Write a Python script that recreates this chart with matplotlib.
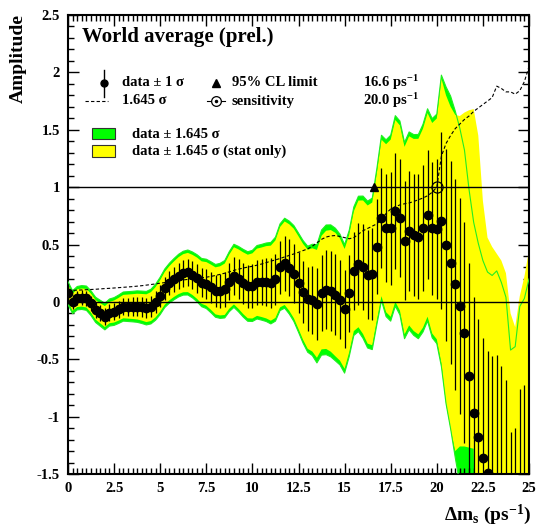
import numpy as np
import matplotlib
matplotlib.use("Agg")
from matplotlib import pyplot as plt
from matplotlib.patches import Rectangle
from matplotlib.lines import Line2D
from matplotlib.ticker import FuncFormatter, MultipleLocator

plt.rcParams['font.family'] = ['Liberation Serif', 'DejaVu Serif']
plt.rcParams['font.weight'] = 'bold'
plt.rcParams['mathtext.fontset'] = 'custom'
plt.rcParams['mathtext.rm'] = 'Liberation Serif:bold'
plt.rcParams['mathtext.it'] = 'Liberation Serif:bold'
plt.rcParams['mathtext.bf'] = 'Liberation Serif:bold'
plt.rcParams['axes.unicode_minus'] = False

# delta m_s scan points (ps^-1), step 0.25
dm = np.arange(0, 25.001, 0.25)

# measured amplitude at each scan point
amp = [0.076, -0.003, 0.032, 0.038, 0.032, -0.012, -0.070, -0.099, -0.128, -0.093,
       -0.084, -0.064, -0.041, -0.041, -0.041, -0.041, -0.047, -0.055, -0.041, -0.003,
       0.052, 0.119, 0.163, 0.198, 0.229, 0.250, 0.256, 0.235, 0.206, 0.168,
       0.157, 0.128, 0.096, 0.096, 0.110, 0.177, 0.227, 0.198, 0.163, 0.134,
       0.139, 0.171, 0.171, 0.171, 0.163, 0.198, 0.302, 0.337, 0.299, 0.247,
       0.168, 0.087, 0.023, 0.017, -0.017, 0.081, 0.105, 0.096, 0.064, 0.020,
       -0.061, 0.073, 0.267, 0.331, 0.302, 0.238, 0.244, 0.482, 0.732, 0.642,
       0.642, 0.793, 0.731, 0.534, 0.619, 0.583, 0.569, 0.642, 0.758, 0.642,
       0.636, 0.706, 0.494, 0.343, 0.154, -0.038, -0.267, -0.643, -0.967, -1.180,
       -1.360, -1.490, -1.55, -1.61, -1.69, -1.79, -2.25, -2.20, -1.88, -1.89,
       -1.85]

# 1.645 sigma (total) -- the dashed sensitivity curve
sens = [0.100, 0.100, 0.102, 0.104, 0.106, 0.108, 0.110, 0.113, 0.116, 0.118,
        0.121, 0.124, 0.127, 0.130, 0.133, 0.137, 0.141, 0.146, 0.151, 0.157,
        0.163, 0.168, 0.174, 0.180, 0.186, 0.191, 0.196, 0.200, 0.205, 0.210,
        0.215, 0.222, 0.230, 0.240, 0.250, 0.262, 0.275, 0.285, 0.295, 0.303,
        0.310, 0.320, 0.330, 0.342, 0.355, 0.366, 0.378, 0.392, 0.405, 0.418,
        0.432, 0.447, 0.462, 0.485, 0.515, 0.545, 0.565, 0.575, 0.578, 0.570,
        0.560, 0.550, 0.560, 0.590, 0.620, 0.640, 0.660, 0.680, 0.720, 0.770,
        0.810, 0.830, 0.845, 0.855, 0.862, 0.875, 0.890, 0.905, 0.925, 0.955,
        1.000, 1.270, 1.380, 1.450, 1.510, 1.550, 1.590, 1.620, 1.660, 1.690,
        1.720, 1.750, 1.780, 1.880, 1.860, 1.830, 1.830, 1.810, 1.840, 1.920,
        2.050]

# 1.645 sigma (stat only), scan points 0 .. 20.25
sens_stat = [0.075, 0.075, 0.077, 0.079, 0.081, 0.083, 0.085, 0.088, 0.091, 0.093,
             0.096, 0.099, 0.102, 0.105, 0.108, 0.112, 0.116, 0.121, 0.126, 0.132,
             0.138, 0.143, 0.149, 0.155, 0.161, 0.166, 0.171, 0.175, 0.180, 0.185,
             0.190, 0.197, 0.205, 0.214, 0.224, 0.236, 0.249, 0.259, 0.269, 0.277,
             0.284, 0.293, 0.303, 0.315, 0.327, 0.338, 0.350, 0.364, 0.377, 0.390,
             0.404, 0.418, 0.432, 0.450, 0.470, 0.495, 0.515, 0.530, 0.538, 0.532,
             0.522, 0.512, 0.522, 0.552, 0.582, 0.602, 0.622, 0.642, 0.682, 0.732,
             0.772, 0.792, 0.807, 0.817, 0.824, 0.837, 0.852, 0.867, 0.887, 0.917,
             0.962, 1.240]

# stat-only band edges for 20.5 .. 25
stat_hi_tail = [1.80, 1.70, 1.63, 1.62, 1.65, 1.67, 1.68, 1.45, 0.88, 0.56,
                0.48, 0.42, 0.36, 0.25, -0.10, -0.22, 0.05, 0.22, 0.45]
stat_lo_tail = [-0.89, -1.11, -1.30, -1.26, -1.26, -1.27, -1.28, -3.5, -3.5, -3.5,
                -3.5, -3.5, -3.5, -3.5, -3.5, -3.5, -3.5, -3.5, -3.5]

cl_limit = 16.6
sensitivity = 20.0

amp = np.array(amp)
sens = np.array(sens)
sig = sens / 1.645
n_stat = len(sens_stat)
yel_hi = np.concatenate([amp[:n_stat] + np.array(sens_stat), stat_hi_tail])
yel_lo = np.concatenate([amp[:n_stat] - np.array(sens_stat), stat_lo_tail])

W, H = 539, 532
fig = plt.figure(figsize=(W / 100, H / 100), dpi=100)
ax = fig.add_axes([68 / W, 1 - 474 / H, (529 - 68) / W, (474 - 15) / H])

def px(x, y):
    return x / W, 1 - y / H

# bands
ax.fill_between(dm, amp - sens, amp + sens, color='#00ff00', lw=0, zorder=1)
ax.fill_between(dm, yel_lo, yel_hi, color='#ffff00', lw=0, zorder=2)
ax.plot(dm, amp + sens, color='#22ee22', lw=0.8, zorder=3)
ax.plot(dm, amp - sens, color='#22ee22', lw=0.8, zorder=3)

ax.axhline(0, color='black', lw=1.0, zorder=4)
ax.axhline(1, color='black', lw=1.0, zorder=4)

ax.plot(dm, sens, color='black', lw=0.8, ls=(0, (3, 2)), zorder=5)

ax.errorbar(dm, amp, yerr=sig, fmt='o', color='black', ms=6, elinewidth=0.9,
            capsize=0, zorder=6)

ax.plot([cl_limit], [1.0], marker='^', color='black', ms=6, zorder=7)
ax.plot([sensitivity], [1.0], marker='o', mfc='none', mec='black', ms=8,
        mew=0.9, zorder=7)

ax.set_xlim(0, 25)
ax.set_ylim(-1.5, 2.5)
ax.xaxis.set_major_locator(MultipleLocator(2.5))
ax.xaxis.set_minor_locator(MultipleLocator(0.25))
ax.yaxis.set_major_locator(MultipleLocator(0.5))
ax.yaxis.set_minor_locator(MultipleLocator(0.1))
fmt = FuncFormatter(lambda v, p: '%g' % v)
ax.xaxis.set_major_formatter(fmt)
ax.yaxis.set_major_formatter(fmt)
ax.tick_params(which='both', direction='in', top=True, right=True, width=1.0)
ax.tick_params(which='major', length=8, labelsize=10.5, pad=6)
ax.tick_params(which='minor', length=4)
for lab in ax.get_xticklabels() + ax.get_yticklabels():
    lab.set_fontweight('bold')
for s in ax.spines.values():
    s.set_linewidth(1.5)

# axis titles
fig.text(*px(18, 14), 'Amplitude', rotation=90, ha='center', va='top', fontsize=14)
fig.text(*px(531, 515), 'Δm$_{s}$ (ps$^{-1}$)', ha='right', va='center', fontsize=14)

# legend
fig.text(*px(82, 37), 'World average (prel.)', ha='left', va='center', fontsize=15)
fs = 10.5
fig.add_artist(Line2D([104 / W, 104 / W], [1 - 70 / H, 1 - 97 / H], color='black', lw=1.0))
fig.add_artist(Line2D([104 / W], [1 - 83 / H], marker='o', color='black', ms=5))
fig.text(*px(122, 83), 'data ± 1 σ', va='center', fontsize=fs)
fig.add_artist(Line2D([85 / W, 108 / W], [1 - 101 / H, 1 - 101 / H], color='black',
                      lw=0.8, ls=(0, (3, 2))))
fig.text(*px(122, 101), '1.645 σ', va='center', fontsize=fs)
fig.add_artist(Line2D([216 / W], [1 - 83 / H], marker='^', color='black', ms=6))
fig.text(*px(232, 83), '95% CL limit', va='center', fontsize=fs)
fig.text(*px(363, 83), '16.6 ps$^{-1}$', va='center', fontsize=fs)
fig.add_artist(Line2D([207 / W, 225 / W], [1 - 101 / H, 1 - 101 / H], color='black', lw=0.8))
fig.add_artist(Line2D([216 / W], [1 - 101 / H], marker='o', mfc='white', mec='black',
                      ms=7, mew=0.9))
fig.add_artist(Line2D([216 / W], [1 - 101 / H], marker='o', color='black', ms=1.5))
fig.text(*px(232, 101), 'sensitivity', va='center', fontsize=fs)
fig.text(*px(363, 101), '20.0 ps$^{-1}$', va='center', fontsize=fs)

fig.add_artist(Rectangle(px(92, 139), 23 / W, 11 / H, facecolor='#00ff00',
                         edgecolor='#333333', lw=0.8))
fig.add_artist(Rectangle(px(92, 157), 23 / W, 12 / H, facecolor='#ffff00',
                         edgecolor='#333333', lw=0.8))
fig.text(*px(132, 134), 'data ± 1.645 σ', va='center', fontsize=fs)
fig.text(*px(132, 151), 'data ± 1.645 σ (stat only)', va='center', fontsize=fs)

fig.savefig('out.png', dpi=100)
